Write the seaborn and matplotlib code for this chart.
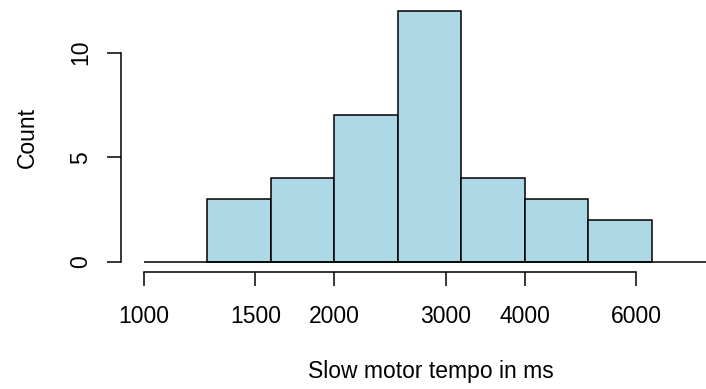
import numpy as np
import seaborn as sns
import matplotlib
matplotlib.use('Agg')
import matplotlib.pyplot as plt

# histogram on log10 scale (bin edges in log10 ms, 1/3-octave bins)
bin_edges = [3.1003, 3.2007, 3.3010, 3.4014, 3.5017, 3.6021, 3.7024, 3.8028]
bin_mids = [3.1505, 3.2508, 3.3512, 3.4515, 3.5519, 3.6522, 3.7526]
counts = [3, 4, 7, 12, 4, 3, 2]

x_ticks_ms = [1000, 1500, 2000, 3000, 4000, 6000]
y_ticks = [0, 5, 10]

sns.set_style("white")
plt.rcParams['font.family'] = ['Liberation Sans', 'DejaVu Sans']
plt.rcParams['text.color'] = 'black'
fs = 16.5

W, H = 706, 389
fig = plt.figure(figsize=(W / 100, H / 100), dpi=100)
# plot region in pixels
left_px, bottom_px, top_px = 120.7, 271.7, 0.8
px_unit = 632.5
x0_px = 143.9
ax = fig.add_axes([left_px / W, 1 - bottom_px / H, 1 - left_px / W, (bottom_px - top_px) / H])

sns.histplot(x=bin_mids, weights=counts, bins=bin_edges, ax=ax,
             color='#ADD8E6', edgecolor='black', linewidth=1.1, alpha=1)

# baseline like abline(h=0)
ax.hlines(0, 3.0, 4.0, color='black', linewidth=1.1, zorder=3)

ax.set_xlim(3 - (x0_px - left_px) / px_unit, 3 + (W - x0_px) / px_unit)
ax.set_ylim((262 - bottom_px) / 20.93, (262 - top_px) / 20.93)

for s in ['top', 'right']:
    ax.spines[s].set_visible(False)
ax.spines['left'].set_bounds(0, 10)
ax.spines['bottom'].set_bounds(3.0, np.log10(6000))
for s in ['left', 'bottom']:
    ax.spines[s].set_color('black')
    ax.spines[s].set_linewidth(1.1)

ax.set_xticks(np.log10(x_ticks_ms))
ax.set_xticklabels([str(v) for v in x_ticks_ms])
ax.set_yticks(y_ticks)
ax.set_yticklabels([str(v) for v in y_ticks], rotation=90, va='center')

ax.tick_params(axis='both', direction='out', length=10, width=1.1, color='black',
               labelsize=fs, labelcolor='black', left=True, bottom=True)
ax.tick_params(axis='x', pad=14)
ax.tick_params(axis='y', pad=10.5)

ax.set_xlabel('')
ax.set_ylabel('')
fig.text(430.5 / W, 1 - 378 / H, 'Slow motor tempo in ms', ha='center', va='baseline',
         fontsize=fs, color='black')
fig.text(27 / W, 1 - 137 / H, 'Count', ha='center', va='center', rotation=90,
         fontsize=fs, color='black')

fig.savefig('out.png', dpi=100)
